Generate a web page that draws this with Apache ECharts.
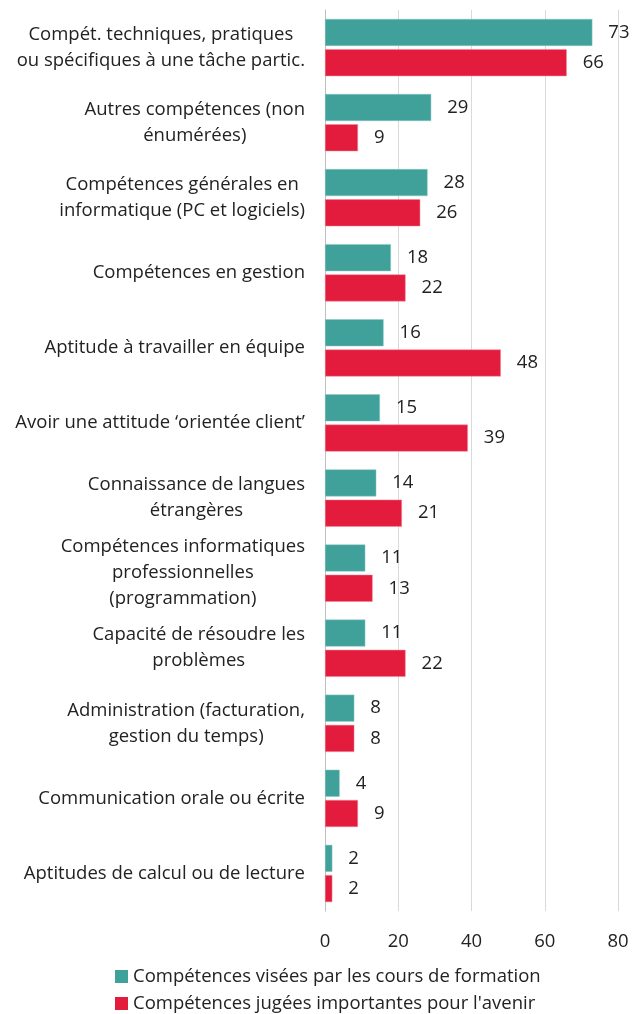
<!DOCTYPE html>
<html>
<head>
<meta charset="utf-8">
<title>Compétences</title>
<script src="https://cdn.jsdelivr.net/npm/echarts@6/dist/echarts.min.js"></script>
<style>
  html, body { margin: 0; padding: 0; background: #fff; }
  #chart { width: 641px; height: 1014px; }
</style>
</head>
<body>
<div id="chart"></div>
<script>
var categories = [
  'Compét. techniques, pratiques\nou spécifiques à une tâche partic.',
  'Autres compétences (non\nénumérées)',
  'Compétences générales en\ninformatique (PC et logiciels)',
  'Compétences en gestion',
  'Aptitude à travailler en équipe',
  'Avoir une attitude ‘orientée client’',
  'Connaissance de langues\nétrangères',
  'Compétences informatiques\nprofessionnelles\n(programmation)',
  'Capacité de résoudre les\nproblèmes',
  'Administration (facturation,\ngestion du temps)',
  'Communication orale ou écrite',
  'Aptitudes de calcul ou de lecture'
];
var formation = [73, 29, 28, 18, 16, 15, 14, 11, 11, 8, 4, 2];
var avenir = [66, 9, 26, 22, 48, 39, 21, 13, 22, 8, 9, 2];
var seriesNames = ['Compétences visées par les cours de formation', "Compétences jugées importantes pour l'avenir"];
var xTicks = { min: 0, max: 80, interval: 20 };

var font = '"Open Sans", "Noto Sans", sans-serif';
var fs = 18.5;
var chart = echarts.init(document.getElementById('chart'));

var valueLabel = {
  show: true,
  position: 'right',
  distance: 16,
  color: '#222',
  fontSize: fs,
  fontFamily: font
};

chart.setOption({
  animation: false,
  grid: { left: 325, right: 23, top: 10, bottom: 103, containLabel: false },
  legend: {
    orient: 'vertical',
    left: 110,
    bottom: -4,
    height: 60,
    itemWidth: 13,
    itemHeight: 13,
    itemGap: 8,
    icon: 'rect',
    itemStyle: { borderWidth: 0 },
    textStyle: { fontSize: fs, color: '#222', fontFamily: font },
    data: seriesNames
  },
  xAxis: {
    type: 'value',
    min: xTicks.min,
    max: xTicks.max,
    interval: xTicks.interval,
    axisLine: { show: false },
    axisTick: { show: false },
    splitLine: { lineStyle: { color: '#d9d9d9' } },
    axisLabel: { fontSize: fs, color: '#222', fontFamily: font, margin: 21 }
  },
  yAxis: {
    type: 'category',
    inverse: true,
    data: categories,
    axisLine: { lineStyle: { color: '#bfbfbf' } },
    axisTick: { length: 5, lineStyle: { color: '#bfbfbf' } },
    axisLabel: {
      margin: 20,
      formatter: function (v) {
        return v.split('\n').map(function (l) { return '{c|' + l + '}'; }).join('\n');
      },
      rich: {
        c: { align: 'center', fontSize: fs, color: '#222', fontFamily: font, lineHeight: 26 }
      }
    }
  },
  series: [{
    name: seriesNames[0],
    type: 'bar',
    data: formation,
    barWidth: 27,
    barGap: '12%',
    itemStyle: { color: '#40a09a', borderColor: '#8cc8c3', borderWidth: 0.5 },
    label: valueLabel
  }, {
    name: seriesNames[1],
    type: 'bar',
    data: avenir,
    barWidth: 27,
    barGap: '12%',
    itemStyle: { color: '#e31c3d', borderColor: '#f08898', borderWidth: 0.5 },
    label: valueLabel
  }]
});
</script>
</body>
</html>
